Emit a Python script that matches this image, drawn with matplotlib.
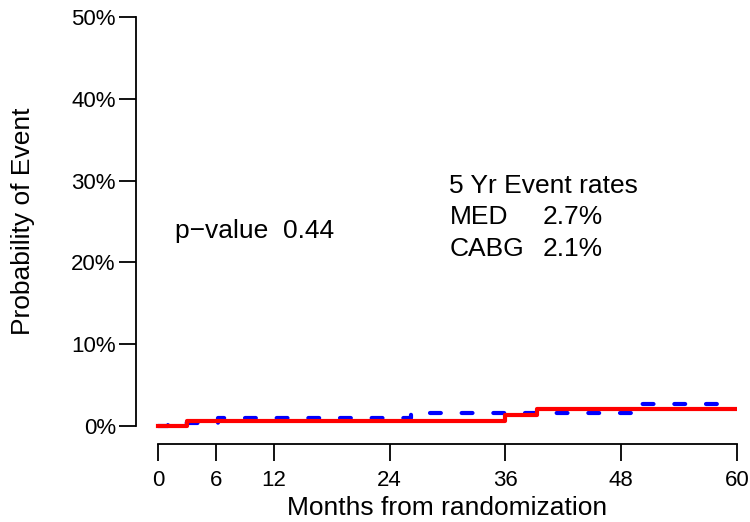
import matplotlib
matplotlib.use("Agg")
import matplotlib.pyplot as plt
from matplotlib.ticker import FuncFormatter

plt.rcParams['font.family'] = ['Liberation Sans', 'DejaVu Sans']

# event curves (months, probability)
med_t = [0, 1, 3.3, 6.2, 26.2, 49.5, 60]
med_p = [0.0, 0.004, 0.004, 0.010, 0.0155, 0.027, 0.027]
cabg_t = [0, 3.0, 36.0, 39.3, 60]
cabg_p = [0.0, 0.006, 0.014, 0.021, 0.021]

x_ticks = [0, 6, 12, 24, 36, 48, 60]
y_ticks = [0, 0.1, 0.2, 0.3, 0.4, 0.5]

rate_labels = ['MED', 'CABG']
rate_values = ['2.7%', '2.1%']

fig = plt.figure(figsize=(7.5, 5.22), dpi=100)
ax = fig.add_axes([136 / 750, 1 - 444 / 522, (737 - 136) / 750, (444 - 17) / 522])

ax.step(med_t, med_p, where='post', color='#0000FF', lw=3, dashes=(2.6, 5.0),
        dash_capstyle='round', zorder=2)
ax.step(cabg_t, cabg_p, where='post', color='#FF0000', lw=3, zorder=3)

ax.set_xlim(-2.28, 60)
ax.set_ylim(-0.022, 0.5)
for s in ['top', 'right']:
    ax.spines[s].set_visible(False)
ax.spines['left'].set_bounds(0, 0.5)
ax.spines['bottom'].set_bounds(0, 60)
for s in ['left', 'bottom']:
    ax.spines[s].set_linewidth(1.3)

ax.set_xticks(x_ticks)
ax.set_yticks(y_ticks)
ax.yaxis.set_major_formatter(FuncFormatter(lambda v, p: '%d%%' % round(v * 100)))
ax.tick_params(axis='both', direction='out', length=12.5, width=1.3, labelsize=16)
ax.tick_params(axis='x', pad=6)
ax.tick_params(axis='y', pad=2)

ax.set_xlabel('Months from randomization', fontsize=19, labelpad=4)
ax.set_ylabel('Probability of Event', fontsize=19, labelpad=26)
ax.xaxis.label.set_x((447.5 - 136) / 601)
ax.yaxis.label.set_y((444 - 221.5) / 427)

ax.text(1.8, 0.238, 'p\u2212value  0.44', fontsize=19, va='center')
ax.text(30.2, 0.294, '5 Yr Event rates', fontsize=19, va='center')
for i, (lab, val) in enumerate(zip(rate_labels, rate_values)):
    y = 0.255 - i * 0.039
    ax.text(30.2, y, lab, fontsize=19, va='center')
    ax.text(39.9, y, val, fontsize=19, va='center')

fig.savefig('out.png', dpi=100)
